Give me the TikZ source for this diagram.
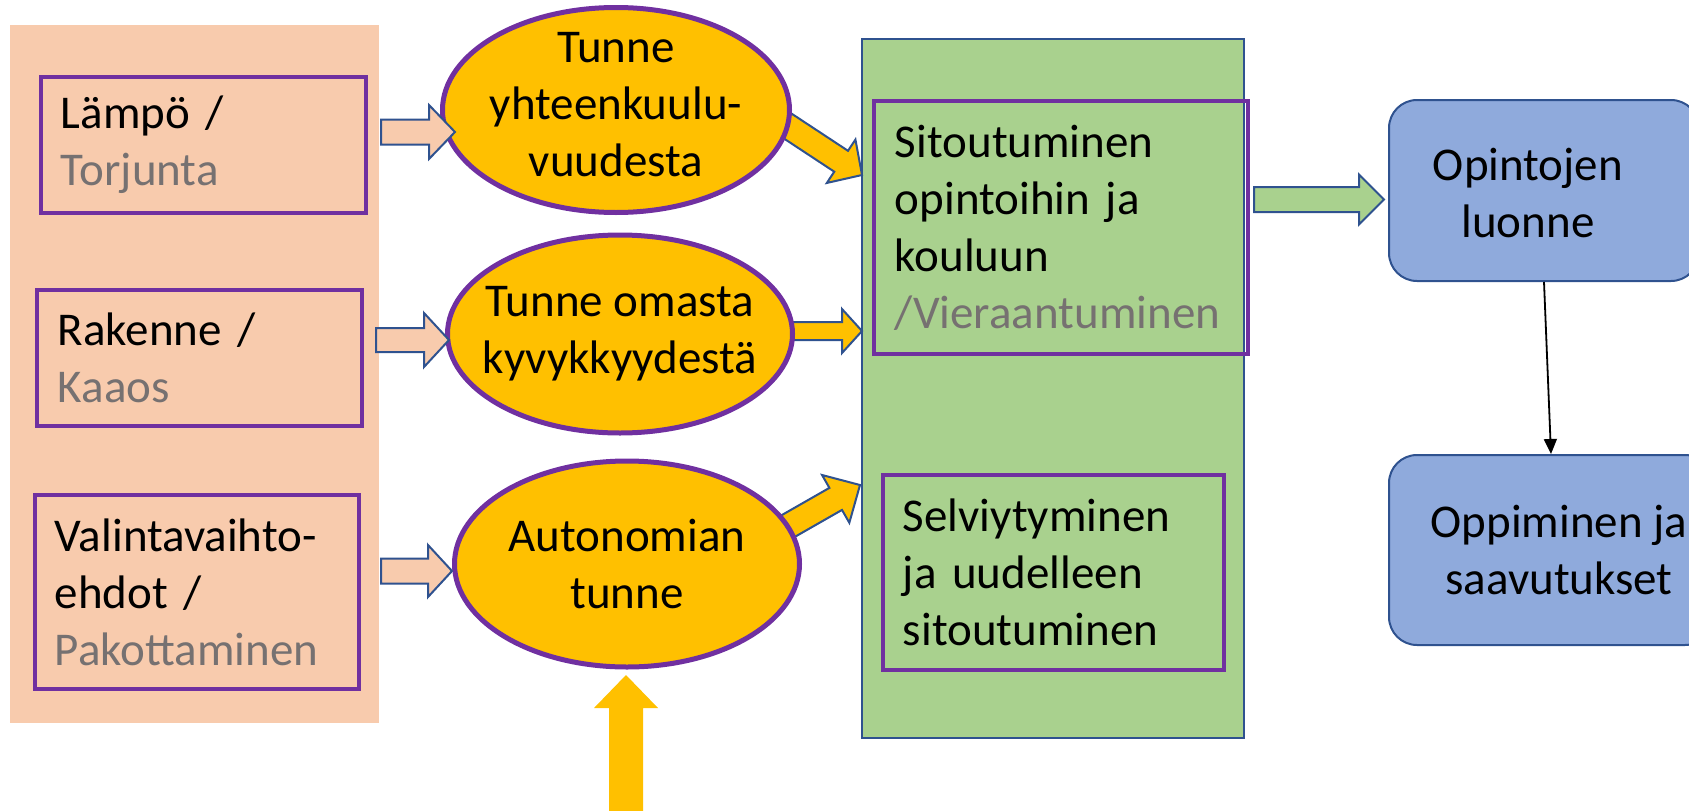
\documentclass[tikz,border=0pt]{standalone}
\usepackage{fontspec}
\setmainfont{Carlito}
\usetikzlibrary{shapes.geometric,calc,arrows.meta}
\definecolor{peach}{HTML}{F8CBAD}
\definecolor{gold}{HTML}{FFC000}
\definecolor{purp}{HTML}{7030A0}
\definecolor{lgreen}{HTML}{A9D18E}
\definecolor{bfill}{HTML}{8FAADC}
\definecolor{bline}{HTML}{2F528F}
\definecolor{gtext}{HTML}{767171}
\newcommand\blockarrow[6]{%
  \coordinate (ba-b) at ($(#3)!#6!(#2)$);
  \path[#1] ($(#2)!#4!90:(#3)$) -- ($(ba-b)!#4!90:(#3)$) -- ($(ba-b)!#5!90:(#3)$) -- (#3)
    -- ($(ba-b)!#5!-90:(#3)$) -- ($(ba-b)!#4!-90:(#3)$) -- ($(#2)!#4!-90:(#3)$) -- cycle;}
\tikzset{
  every node/.style={font=\fontsize{47}{57}\selectfont, inner sep=0pt},
  lbox/.style={draw=purp, line width=3.8pt, anchor=north west, align=left, inner xsep=20pt},
  ell/.style={ellipse, fill=gold, draw=purp, line width=5pt},
  bbox/.style={rounded corners=28pt, fill=bfill, draw=bline, line width=2pt, anchor=north west},
  hollow/.style={fill=peach, draw=bline, line width=2pt},
  yarrow/.style={fill=gold, draw=bline, line width=2pt},
  garrow/.style={fill=lgreen, draw=bline, line width=2pt},
  barrow/.style={fill=gold},
}
\begin{document}
\begin{tikzpicture}[x=1pt,y=-1pt]
\useasboundingbox (0,0) rectangle (1689,811);
\clip (0,0) rectangle (1689,811);
% left panel
\node[fill=peach, anchor=north west, minimum width=369pt, minimum height=698pt] (panel) at (10,25) {};
\node[lbox, text width=285pt, minimum height=136pt] (b1) at (39,75) {Lämpö /\\\textcolor{gtext}{Torjunta}};
\node[lbox, text width=283pt, inner xsep=21pt, minimum height=136pt] (b2) at (35,288) {Rakenne /\\\textcolor{gtext}{Kaaos}};
\node[lbox, text width=284pt, minimum height=194pt] (b3) at (33,493) {Valintavaihto-\\ehdot /\\\textcolor{gtext}{Pakottaminen}};
% green column
\node[fill=lgreen, draw=bline, line width=2pt, anchor=north west, minimum width=382pt, minimum height=699pt] (col) at (861,38) {};
\node[lbox, text width=332pt, inner xsep=21pt, minimum height=253pt] (sit) at (872,99) {Sitoutuminen\\opintoihin ja\\kouluun\\\textcolor{gtext}{/Vieraantuminen}};
\node[lbox, text width=301pt, minimum height=195pt] (sel) at (881,473) {Selviytyminen\\ja uudelleen\\sitoutuminen};
% yellow arrows (behind ellipses)
\coordinate (y1s) at (777,119); \coordinate (y1t) at (862,175);
\blockarrow{yarrow}{y1s}{y1t}{12.5pt}{26pt}{25pt}
\coordinate (y2s) at (785,331); \coordinate (y2t) at (862,331);
\blockarrow{yarrow}{y2s}{y2t}{9pt}{22pt}{20pt}
\coordinate (y3s) at (776,533); \coordinate (y3t) at (860,485);
\blockarrow{yarrow}{y3s}{y3t}{12.7pt}{27.5pt}{28pt}
% ellipses
\node[ell, minimum width=347pt, minimum height=205pt] (e1) at (616,110) {};
\node[align=center] (e1t) at (e1.center) [yshift=5pt] {Tunne\\yhteenkuulu-\\vuudesta};
\node[ell, minimum width=345pt, minimum height=198pt] (e2) at (620,334) {};
\node[align=center] (e2t) at (e2.center) {Tunne omasta\\kyvykkyydestä};
\node[ell, minimum width=345pt, minimum height=206pt] (e3) at (627,564) {};
\node[align=center] (e3t) at (e3.center) {Autonomian\\tunne};
% hollow arrows
\coordinate (h1s) at (381,132); \coordinate (h1t) at (455,132);
\blockarrow{hollow}{h1s}{h1t}{12.5pt}{27pt}{26pt}
\coordinate (h2s) at (376,340); \coordinate (h2t) at (449,340);
\blockarrow{hollow}{h2s}{h2t}{12pt}{27pt}{25pt}
\coordinate (h3s) at (381,571); \coordinate (h3t) at (452,571);
\blockarrow{hollow}{h3s}{h3t}{12.5pt}{26pt}{24pt}
% bottom arrow
\coordinate (bas) at (626,815); \coordinate (bat) at (626,675);
\blockarrow{barrow}{bas}{bat}{17pt}{32pt}{33pt}
% right boxes
\node[bbox, minimum width=310pt, minimum height=181pt] (op) at (1388,99) {};
\node[align=center] (opt) at (1528,193) {Opintojen\\luonne};
\node[bbox, minimum width=324pt, minimum height=190pt] (oppi) at (1388,454) {};
\node[align=center] (oppit) at (1559,550) {Oppiminen ja\\saavutukset};
% green arrow
\coordinate (gs) at (1254,199.5); \coordinate (gt) at (1384,199.5);
\blockarrow{garrow}{gs}{gt}{12.5pt}{25pt}{25pt}
% connector
\draw[line width=1.8pt, -{Triangle[length=15pt,width=13pt]}] (op.south) -- (oppi.north);
\end{tikzpicture}
\end{document}
